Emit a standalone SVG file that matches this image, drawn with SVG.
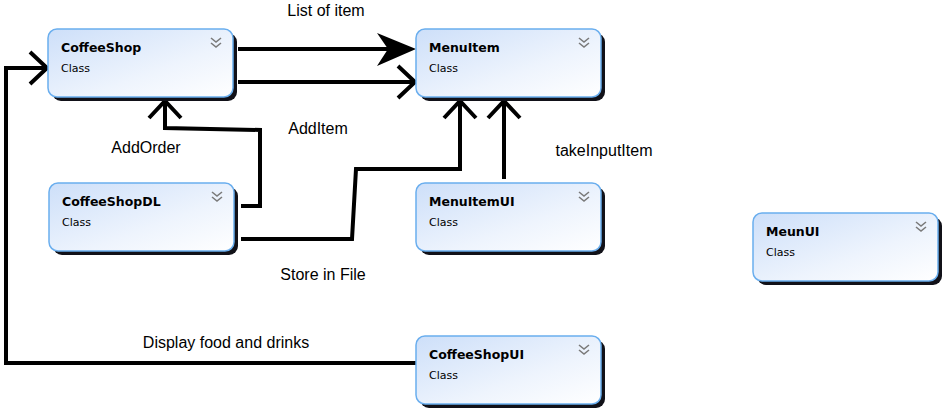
<svg xmlns="http://www.w3.org/2000/svg" width="949" height="416" viewBox="0 0 949 416">
<defs>
<linearGradient id="boxfill" x1="0" y1="0" x2="1" y2="1">
<stop offset="0" stop-color="#cddff9"/>
<stop offset="0.6" stop-color="#eef4fd"/>
<stop offset="1" stop-color="#ffffff"/>
</linearGradient>
<marker id="open" markerUnits="userSpaceOnUse" markerWidth="40" markerHeight="40" refX="0" refY="0" viewBox="-22 -20 26 40" orient="auto" overflow="visible">
<path d="M-17,-16 L0,0 L-17,16" fill="none" stroke="#000" stroke-width="4"/>
</marker>
<marker id="filled" markerUnits="userSpaceOnUse" markerWidth="50" markerHeight="40" refX="0" refY="0" viewBox="-40 -20 50 40" orient="auto" overflow="visible">
<path d="M6,0 L-33,-16 L-22,0 L-33,17 Z" fill="#000"/>
</marker>
<g id="chev">
<path d="M-5,-6 L0,-2 L5,-6 M-5,-1 L0,3 L5,-1" fill="none" stroke="#7a7a7a" stroke-width="1.6"/>
</g>
</defs>
<style>
.shadow{fill:#111118}
.box{fill:url(#boxfill);stroke:#6aaeee;stroke-width:1.5}
.title{font-family:"DejaVu Sans",sans-serif;font-weight:bold;font-size:12.5px;fill:#000}
.sub{font-family:"DejaVu Sans",sans-serif;font-size:11px;fill:#000}
.lbl{font-family:"Liberation Sans",Arial,sans-serif;font-size:16px;fill:#000;text-anchor:middle}
.con{fill:none;stroke:#000;stroke-width:4;stroke-linejoin:miter}
</style>
<rect width="949" height="416" fill="#ffffff"/>

<g id="connectors">
<path class="con" d="M238,49 H410" marker-end="url(#filled)"/>
<path class="con" d="M238,82 H415" marker-end="url(#open)"/>
<path class="con" d="M241,206 H260 V130 L165,128 V101" marker-end="url(#open)"/>
<path class="con" d="M241,239 H352 L356,169 H460 V101" marker-end="url(#open)"/>
<path class="con" d="M504,179 V101" marker-end="url(#open)"/>
<path class="con" d="M416,363 H6 V68 H47" marker-end="url(#open)"/>
<text class="lbl" x="326" y="16">List of item</text>
<text class="lbl" x="318" y="134">AddItem</text>
<text class="lbl" x="146" y="153">AddOrder</text>
<text class="lbl" x="323" y="280">Store in File</text>
<text class="lbl" x="604" y="156">takeInputItem</text>
<text class="lbl" x="226" y="348">Display food and drinks</text>
</g>

<g id="CoffeeShop" transform="translate(48,29)">
<rect class="shadow" x="4" y="4" width="185" height="68" rx="9"/>
<rect class="box" x="0" y="0" width="185" height="68" rx="9"/>
<text class="title" x="13" y="23">CoffeeShop</text>
<text class="sub" x="13" y="43">Class</text>
<use href="#chev" x="168" y="15"/>
</g>

<g id="MenuItem" transform="translate(416,29)">
<rect class="shadow" x="4" y="4" width="185" height="68" rx="9"/>
<rect class="box" x="0" y="0" width="185" height="68" rx="9"/>
<text class="title" x="13" y="23">MenuItem</text>
<text class="sub" x="13" y="43">Class</text>
<use href="#chev" x="168" y="15"/>
</g>

<g id="CoffeeShopDL" transform="translate(49,183)">
<rect class="shadow" x="4" y="4" width="185" height="68" rx="9"/>
<rect class="box" x="0" y="0" width="185" height="68" rx="9"/>
<text class="title" x="13" y="23">CoffeeShopDL</text>
<text class="sub" x="13" y="43">Class</text>
<use href="#chev" x="168" y="15"/>
</g>

<g id="MenuItemUI" transform="translate(416,183)">
<rect class="shadow" x="4" y="4" width="185" height="68" rx="9"/>
<rect class="box" x="0" y="0" width="185" height="68" rx="9"/>
<text class="title" x="13" y="23">MenuItemUI</text>
<text class="sub" x="13" y="43">Class</text>
<use href="#chev" x="168" y="15"/>
</g>

<g id="MeunUI" transform="translate(753,213)">
<rect class="shadow" x="4" y="4" width="185" height="68" rx="9"/>
<rect class="box" x="0" y="0" width="185" height="68" rx="9"/>
<text class="title" x="13" y="23">MeunUI</text>
<text class="sub" x="13" y="43">Class</text>
<use href="#chev" x="168" y="15"/>
</g>

<g id="CoffeeShopUI" transform="translate(416,336)">
<rect class="shadow" x="4" y="4" width="185" height="68" rx="9"/>
<rect class="box" x="0" y="0" width="185" height="68" rx="9"/>
<text class="title" x="13" y="23">CoffeeShopUI</text>
<text class="sub" x="13" y="43">Class</text>
<use href="#chev" x="168" y="15"/>
</g>
</svg>
